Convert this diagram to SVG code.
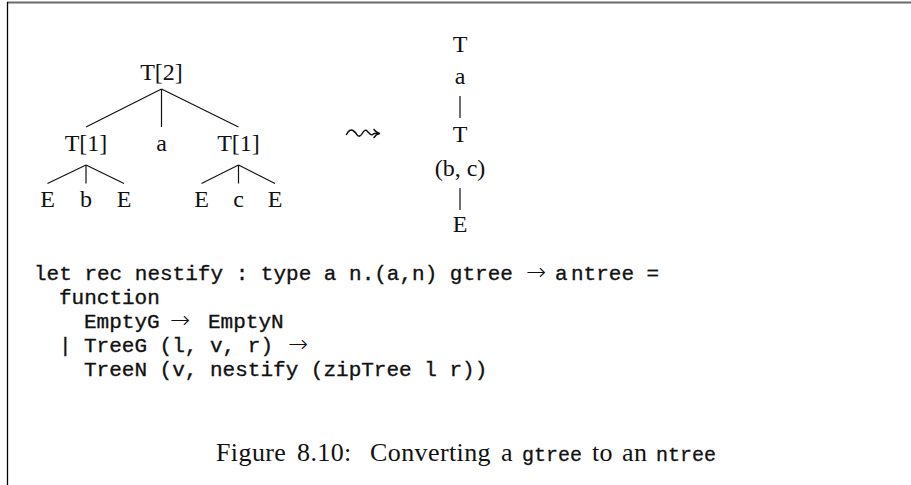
<svg xmlns="http://www.w3.org/2000/svg" width="911" height="485" viewBox="0 0 911 485">
  <style>
    .rm { font-family: "Liberation Serif", "Times New Roman", serif; font-size: 24px; fill: #111; }
    .lbl { text-anchor: middle; }
    .tt { font-family: "Liberation Mono", "Courier New", monospace; font-size: 21px; fill: #111; stroke: #111; stroke-width: 0.35; }
    .ar { font-family: "DejaVu Sans", sans-serif; font-size: 24px; font-weight: 200; fill: #111; }
    .cap { font-family: "Liberation Serif", "Times New Roman", serif; font-size: 26px; letter-spacing: 0.4px; fill: #111; }
    .ctt { font-family: "Liberation Mono", "Courier New", monospace; font-size: 20px; fill: #111; stroke: #111; stroke-width: 0.3; }
    .edge { stroke: #111; stroke-width: 1.2; fill: none; stroke-linecap: butt; }
  </style>

  <rect width="911" height="485" fill="#ffffff"/>

  <!-- frame: top rule and left rule -->
  <line x1="7" y1="2.5" x2="911" y2="2.5" stroke="#6a6a6a" stroke-width="2"/>
  <line x1="7.5" y1="2" x2="7.5" y2="485" stroke="#000" stroke-width="1.3"/>

  <!-- connectors of both trees -->
  <g id="connectors">
    <line class="edge" x1="161.5" y1="89" x2="86" y2="127"/>
    <line class="edge" x1="161.5" y1="89" x2="161.5" y2="127"/>
    <line class="edge" x1="161.5" y1="89" x2="238.5" y2="127"/>
    <line class="edge" x1="86" y1="165" x2="47.5" y2="183.5"/>
    <line class="edge" x1="86" y1="165" x2="86" y2="183.5"/>
    <line class="edge" x1="86" y1="165" x2="124" y2="183.5"/>
    <line class="edge" x1="238.5" y1="165" x2="201.5" y2="183.5"/>
    <line class="edge" x1="238.5" y1="165" x2="238.5" y2="183.5"/>
    <line class="edge" x1="238.5" y1="165" x2="275" y2="183.5"/>
    <line class="edge" x1="460" y1="96" x2="460" y2="118"/>
    <line class="edge" x1="460" y1="188" x2="460" y2="210"/>
  </g>

  <!-- left tree: T[2] -->
  <g id="t2"><text class="rm lbl" x="161.5" y="80">T[2]</text></g>
  <g id="t1-left"><text class="rm lbl" x="86" y="151">T[1]</text></g>
  <g id="a-mid"><text class="rm lbl" x="161.5" y="151">a</text></g>
  <g id="t1-right"><text class="rm lbl" x="238.5" y="151">T[1]</text></g>
  <g id="e1"><text class="rm lbl" x="47.5" y="206.5">E</text></g>
  <g id="b"><text class="rm lbl" x="86" y="206.5">b</text></g>
  <g id="e2"><text class="rm lbl" x="124" y="206.5">E</text></g>
  <g id="e3"><text class="rm lbl" x="201.5" y="206.5">E</text></g>
  <g id="c"><text class="rm lbl" x="238.5" y="206.5">c</text></g>
  <g id="e4"><text class="rm lbl" x="275" y="206.5">E</text></g>

  <!-- leadsto arrow -->
  <g id="leadsto" fill="none" stroke="#111" stroke-width="1.5" stroke-linejoin="round" stroke-linecap="round">
    <path d="M346.5,134.5 Q349.5,128.5 353,130.5 Q355.5,132 357.5,135.5 Q360,137.5 362.5,133 Q365,128.5 367.5,131.5 L370.5,134.5 Q372,135.5 374,133.5 L379,133.5"/>
    <path d="M374,129.5 Q376,132.7 379.5,133.5 Q376,134.3 374,137.5"/>
  </g>

  <!-- right tree: nested tree -->
  <g id="n-root">
    <text class="rm lbl" x="460" y="52">T</text>
    <text class="rm lbl" x="460" y="84">a</text>
  </g>
  <g id="n-inner">
    <text class="rm lbl" x="460" y="142">T</text>
    <text class="rm lbl" x="460" y="176">(b, c)</text>
  </g>
  <g id="n-leaf"><text class="rm lbl" x="460" y="232">E</text></g>

  <!-- code listing -->
  <g id="code" xml:space="preserve">
    <text class="tt" x="34" y="280">let rec nestify : type a n.(a,n) gtree</text>
    <text class="ar" x="526" y="280">→</text>
    <text class="tt" x="555" y="280">a</text>
    <text class="tt" x="571" y="280">ntree =</text>

    <text class="tt" x="59" y="304">function</text>

    <text class="tt" x="84" y="328">EmptyG</text>
    <text class="ar" x="170" y="328">→</text>
    <text class="tt" x="208" y="328">EmptyN</text>

    <text class="tt" x="59" y="352">|</text>
    <text class="tt" x="84" y="352">TreeG (l, v, r)</text>
    <text class="ar" x="288" y="352">→</text>

    <text class="tt" x="84" y="376">TreeN (v, nestify (zipTree l r))</text>
  </g>

  <!-- caption -->
  <g id="caption">
    <text class="cap" x="216" y="461">Figure</text>
    <text class="cap" x="297" y="461">8.10:</text>
    <text class="cap" x="370" y="461">Converting</text>
    <text class="cap" x="501" y="461">a</text>
    <text class="ctt" x="522" y="461">gtree</text>
    <text class="cap" x="592" y="461">to</text>
    <text class="cap" x="622" y="461">an</text>
    <text class="ctt" x="656" y="461">ntree</text>
  </g>
</svg>
